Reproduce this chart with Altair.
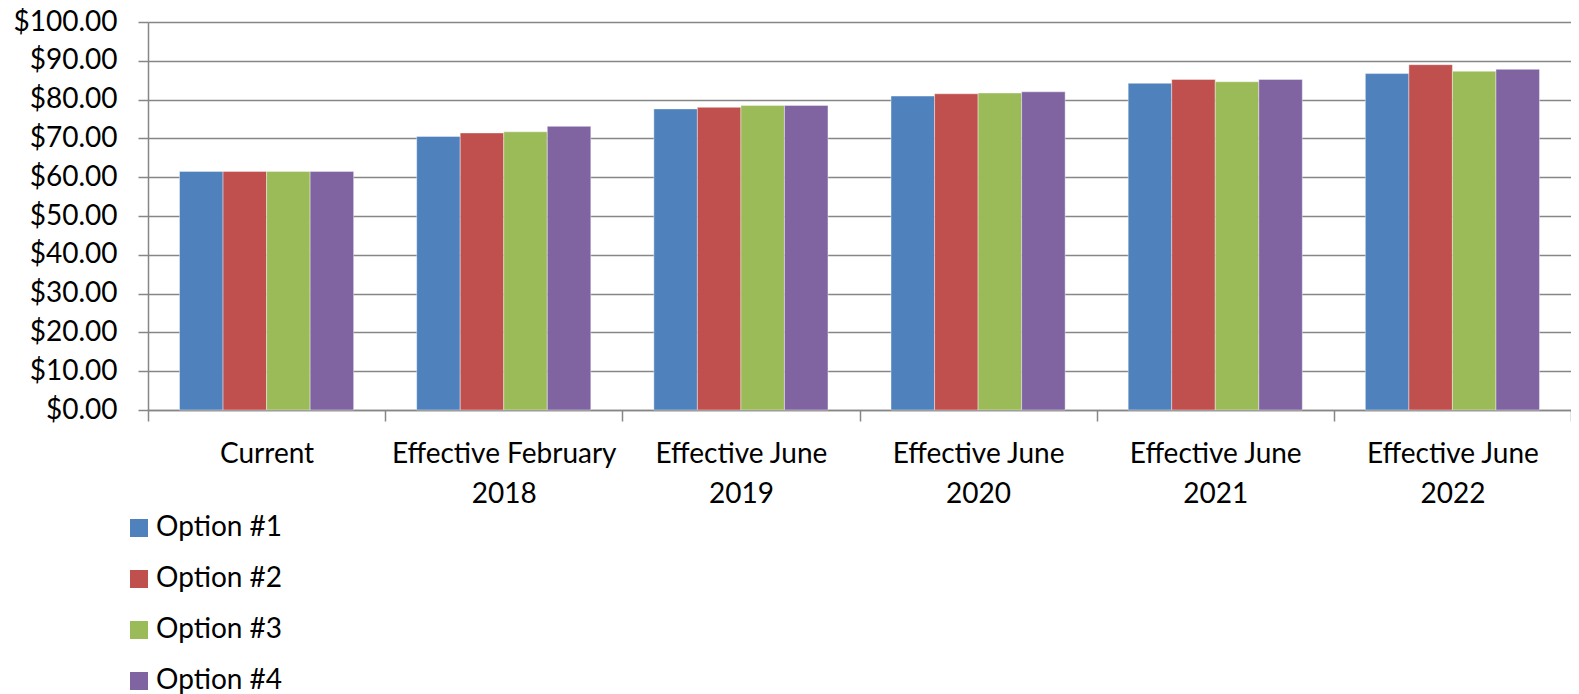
import altair as alt
import pandas as pd

categories = ["Current", "Effective February 2018", "Effective June 2019",
              "Effective June 2020", "Effective June 2021", "Effective June 2022"]
series = ["Option #1", "Option #2", "Option #3", "Option #4"]
option1 = [61.5, 70.5, 77.6, 80.9, 84.2, 86.7]
option2 = [61.5, 71.4, 78.0, 81.5, 85.2, 89.0]
option3 = [61.5, 71.7, 78.5, 81.7, 84.6, 87.3]
option4 = [61.5, 73.1, 78.5, 82.0, 85.2, 87.8]
colors = ["#4F81BD", "#C0504D", "#9BBB59", "#8064A2"]
y_ticks = [0, 10, 20, 30, 40, 50, 60, 70, 80, 90, 100]

rows = []
for s, vals in zip(series, [option1, option2, option3, option4]):
    for c, v in zip(categories, vals):
        rows.append({"category": c, "series": s, "value": v})
df = pd.DataFrame(rows)

FONT = "Lato"
GRID = "#868686"

label_expr = ("datum.label == 'Current' ? 'Current' : "
              "[slice(datum.label, 0, -5), slice(datum.label, -4)]")

chart = alt.Chart(df).mark_bar(stroke="white", strokeWidth=0.8, strokeOpacity=0.5).encode(
    x=alt.X("category:N", sort=categories,
            scale=alt.Scale(paddingInner=0, paddingOuter=0),
            axis=alt.Axis(title=None, labelAngle=0, tickBand="extent",
                          labelExpr=label_expr, labelLineHeight=40,
                          labelFont=FONT, labelFontSize=28,
                          labelColor="black", labelPadding=19, labelLimit=400,
                          tickSize=11, tickColor=GRID, tickWidth=1.5,
                          domainColor=GRID, domainWidth=1.5, grid=False)),
    xOffset=alt.XOffset("series:N", sort=series,
                        scale=alt.Scale(paddingInner=0, paddingOuter=0.724)),
    y=alt.Y("value:Q", scale=alt.Scale(domain=[0, 100]),
            axis=alt.Axis(title=None, values=y_ticks, format="$.2f",
                          labelFont=FONT, labelFontSize=28, labelColor="black",
                          labelPadding=21, tickSize=10, tickColor=GRID, tickWidth=1.5,
                          domainColor=GRID, domainWidth=1.5,
                          grid=True, gridColor=GRID, gridWidth=1.6)),
    color=alt.Color("series:N", sort=series,
                    scale=alt.Scale(domain=series, range=colors),
                    legend=alt.Legend(title=None, orient="none", legendX=-23, legendY=492,
                                      direction="vertical", symbolType="square",
                                      symbolSize=324, symbolStrokeWidth=0,
                                      labelFont=FONT, labelFontSize=28, labelColor="black",
                                      labelOffset=3, rowPadding=23, padding=0)),
).properties(
    width=1423, height=388,
    padding={"left": 140, "top": 14, "right": 0, "bottom": 284},
    autosize=alt.AutoSizeParams(type="none"),
    background="white",
).configure_view(strokeWidth=0)

chart.save("out.html", embed_options={"renderer": "svg", "actions": False})
